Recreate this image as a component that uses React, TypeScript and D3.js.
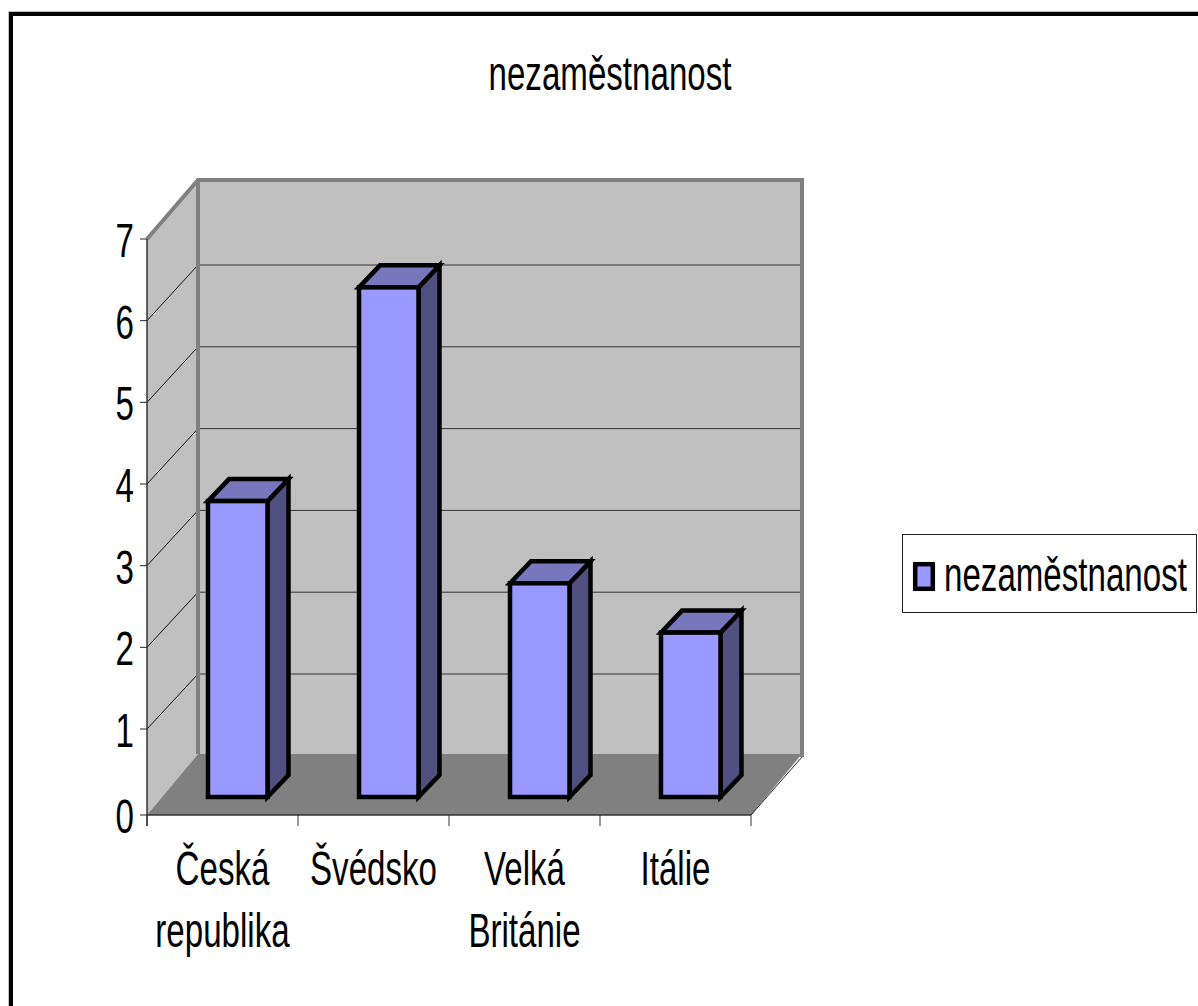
import React from "react";
import * as d3 from "d3";

const categories = ["Česká republika", "Švédsko", "Velká Británie", "Itálie"];
const categoryLines = [["Česká", "republika"], ["Švédsko"], ["Velká", "Británie"], ["Itálie"]];
const values = [3.6, 6.2, 2.6, 2.0];
const yTicks = [0, 1, 2, 3, 4, 5, 6, 7];
const gridValues = [1, 2, 3, 4, 5, 6];
const seriesName = "nezaměstnanost";
const title = "nezaměstnanost";

const FONT = "'Liberation Sans', Arial, sans-serif";
const SX = 0.69;

const x0 = 147, x1 = 751, y0 = 815, y7 = 239;
const depthX = 51;
const floorBack = 754;
const backTop = 180;
// the reference's axis has an uneven first step, so the tick scale is piecewise
const y = d3.scaleLinear().domain([0, 1, 7]).range([y0, 729, y7]);
const yBack = d3.scaleLinear().domain([0, 1, 6]).range([floorBack, 674, 265]);
const yBar = d3.scaleLinear().domain([0, 7]).range([797, 797 - 7 * 82.2]);
const xBand = d3.scaleBand<string>().domain(categories).range([x0, x1]);

const barW = 59.5, barDepthX = 21, barDepthY = 22, barInset = 61;

function T({ x, y: yy, children, anchor = "middle" }: any) {
  return (
    <text transform={`translate(${x},${yy}) scale(${SX},1)`} textAnchor={anchor} fontFamily={FONT} fontSize={48} fill="#000">
      {children}
    </text>
  );
}

const pts = (a: number[][]) => a.map((p) => p.join(",")).join(" ");

export default function App() {
  const yBase = yBar(0);
  return (
    <svg width={1198} height={1006} style={{ position: "absolute", left: 0, top: 0, background: "#fff" }}>
      {/* outer frame */}
      <path d="M8.5,1006 V11.5 H1198" fill="none" stroke="#c0c0c0" strokeWidth={1} />
      <path d="M11,1006 V14 H1198" fill="none" stroke="#000" strokeWidth={4} />

      <T x={610} y={90}>{title}</T>

      {/* walls */}
      <polygon points={pts([[x0 + depthX, backTop], [x1 + depthX, backTop], [x1 + depthX, floorBack], [x0 + depthX, floorBack]])} fill="#c0c0c0" />
      <polygon points={pts([[x0, y7], [x0 + depthX, backTop], [x0 + depthX, floorBack], [x0, y0]])} fill="#c0c0c0" />
      <polygon points={pts([[x0 + depthX, floorBack], [x1 + depthX, floorBack], [x1, y0], [x0, y0]])} fill="#808080" />

      {/* gridlines */}
      {gridValues.map((v) => (
        <g key={v}>
          <line x1={x0} x2={x0 + depthX} y1={y(v)} y2={yBack(v)} stroke="#111" strokeWidth={1} />
          <line x1={x0 + depthX} x2={x1 + depthX} y1={yBack(v)} y2={yBack(v)} stroke="#333" strokeWidth={1} />
        </g>
      ))}

      {/* wall border */}
      <path d={`M${x0},${y7} L${x0 + depthX},${backTop} H${x1 + depthX} V${floorBack + 3}`} fill="none" stroke="#808080" strokeWidth={4} />
      <path d={`M${x0 + depthX},${backTop} V${floorBack}`} fill="none" stroke="#808080" strokeWidth={4} />
      <line x1={x1} y1={y0} x2={x1 + depthX} y2={floorBack + 3} stroke="#222" strokeWidth={1} />

      {/* axes */}
      <line x1={x0} x2={x0} y1={y7} y2={y0 + 11} stroke="#333" strokeWidth={1.5} />
      <line x1={x0} x2={x1} y1={y0} y2={y0} stroke="#333" strokeWidth={1.5} />
      {yTicks.map((v) => (
        <g key={v}>
          <line x1={x0 - 7} x2={x0} y1={y(v)} y2={y(v)} stroke="#222" strokeWidth={1} />
          <T x={134} y={y(v) + 18} anchor="end">{v}</T>
        </g>
      ))}
      {[...categories.map((c) => xBand(c)!), x1].map((t, i) => (
        <line key={i} x1={t} x2={t} y1={y0} y2={y0 + 11} stroke="#333" strokeWidth={1} />
      ))}

      {/* bars */}
      {categories.map((c, i) => {
        const l = xBand(c)! + barInset;
        const r = l + barW;
        const t = yBar(values[i]);
        return (
          <g key={c} stroke="#000" strokeWidth={4.5} strokeLinejoin="miter">
            <polygon points={pts([[r, t], [r + barDepthX, t - barDepthY], [r + barDepthX, yBase - barDepthY], [r, yBase]])} fill="#4f4f80" />
            <polygon points={pts([[l, t], [l + barDepthX, t - barDepthY], [r + barDepthX, t - barDepthY], [r, t]])} fill="#7777bd" />
            <rect x={l} y={t} width={barW} height={yBase - t} fill="#9999ff" />
          </g>
        );
      })}

      {/* category labels */}
      {categories.map((c, i) => (
        <g key={c}>
          {categoryLines[i].map((line, j) => (
            <T key={j} x={xBand(c)! + xBand.bandwidth() / 2} y={885 + j * 62}>{line}</T>
          ))}
        </g>
      ))}

      {/* legend */}
      <rect x={902.5} y={534.5} width={294} height={78} fill="#fff" stroke="#222" strokeWidth={1} />
      <rect x={915.2} y={564.2} width={17.6} height={24.6} fill="#9999ff" stroke="#000" strokeWidth={4.5} />
      <T x={944} y={591} anchor="start">{seriesName}</T>
    </svg>
  );
}
